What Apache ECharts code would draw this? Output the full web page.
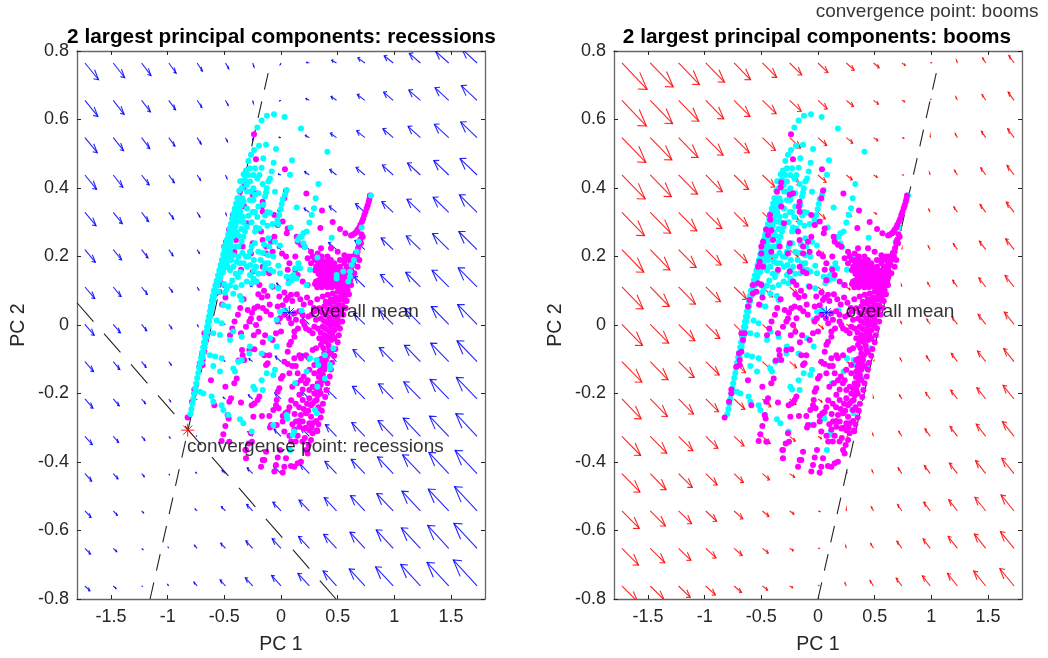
<!DOCTYPE html>
<html>
<head>
<meta charset="utf-8">
<style>
  html, body { margin: 0; padding: 0; background: #fff; }
  #main { width: 1048px; height: 658px; }
</style>
<script src="https://cdn.jsdelivr.net/npm/echarts@6/dist/echarts.min.js"></script>
</head>
<body>
<div id="main"></div>
<script>
var xTicks = [-1.5, -1, -0.5, 0, 0.5, 1, 1.5];
var yTicks = [-0.8, -0.6, -0.4, -0.2, 0, 0.2, 0.4, 0.6, 0.8];

// grid of the quiver tails
var fieldX = [-1.73, -1.48, -1.23, -0.99, -0.74, -0.49, -0.25, 0, 0.25, 0.49, 0.74, 0.99, 1.23, 1.48, 1.73];
var fieldY = [0.765, 0.656, 0.547, 0.438, 0.329, 0.22, 0.111, 0.002, -0.107, -0.216, -0.325, -0.434, -0.543, -0.652, -0.762];

var recessionU = [
  [.120,.101,.083,.065,.047,.029,.011,-.007,-.025,-.043,-.062,-.080,-.098,-.116,-.134],
  [.114,.096,.078,.060,.042,.024,.006,-.013,-.031,-.049,-.067,-.085,-.103,-.121,-.139],
  [.109,.091,.072,.054,.036,.018,0,-.018,-.036,-.054,-.072,-.091,-.109,-.127,-.145],
  [.103,.085,.067,.049,.031,.013,-.005,-.024,-.042,-.060,-.078,-.096,-.114,-.132,-.150],
  [.098,.080,.062,.043,.025,.007,-.011,-.029,-.047,-.065,-.083,-.101,-.119,-.138,-.156],
  [.092,.074,.056,.038,.020,.002,-.016,-.034,-.052,-.071,-.089,-.107,-.125,-.143,-.161],
  [.087,.069,.051,.033,.015,-.004,-.022,-.040,-.058,-.076,-.094,-.112,-.130,-.148,-.167],
  [.082,.063,.045,.027,.009,-.009,-.027,-.045,-.063,-.081,-.100,-.118,-.136,-.154,-.172],
  [.076,.058,.040,.022,.004,-.014,-.033,-.051,-.069,-.087,-.105,-.123,-.141,-.159,-.177],
  [.071,.053,.034,.016,-.002,-.020,-.038,-.056,-.074,-.092,-.110,-.129,-.147,-.165,-.183],
  [.065,.047,.029,.011,-.007,-.025,-.043,-.062,-.080,-.098,-.116,-.134,-.152,-.170,-.188],
  [.060,.042,.024,.005,-.013,-.031,-.049,-.067,-.085,-.103,-.121,-.139,-.157,-.176,-.194],
  [.054,.036,.018,0,-.018,-.036,-.054,-.072,-.091,-.109,-.127,-.145,-.163,-.181,-.199],
  [.049,.031,.013,-.005,-.024,-.042,-.060,-.078,-.096,-.114,-.132,-.150,-.168,-.186,-.205],
  [.044,.025,.007,-.011,-.029,-.047,-.065,-.083,-.101,-.119,-.138,-.156,-.174,-.192,-.210]
];
var recessionV = [
  [-.049,-.043,-.037,-.030,-.024,-.017,-.011,-.005,.002,.008,.015,.021,.028,.034,.041],
  [-.047,-.041,-.034,-.028,-.021,-.015,-.008,-.002,.005,.011,.017,.024,.030,.037,.043],
  [-.044,-.038,-.032,-.025,-.019,-.012,-.006,.001,.007,.013,.020,.026,.033,.039,.046],
  [-.042,-.036,-.029,-.023,-.016,-.010,-.003,.003,.010,.016,.022,.029,.035,.042,.048],
  [-.039,-.033,-.027,-.020,-.014,-.007,-.001,.006,.012,.018,.025,.031,.038,.044,.051],
  [-.037,-.030,-.024,-.018,-.011,-.005,.002,.008,.015,.021,.027,.034,.040,.047,.053],
  [-.034,-.028,-.022,-.015,-.009,-.002,.004,.011,.017,.023,.030,.036,.043,.049,.056],
  [-.032,-.025,-.019,-.013,-.006,0,.007,.013,.020,.026,.032,.039,.045,.052,.058],
  [-.029,-.023,-.017,-.010,-.004,.003,.009,.016,.022,.028,.035,.041,.048,.054,.061],
  [-.027,-.020,-.014,-.008,-.001,.005,.012,.018,.025,.031,.037,.044,.050,.057,.063],
  [-.024,-.018,-.012,-.005,.001,.008,.014,.021,.027,.034,.040,.046,.053,.059,.066],
  [-.022,-.015,-.009,-.003,.004,.010,.017,.023,.030,.036,.042,.049,.055,.062,.068],
  [-.019,-.013,-.006,0,.006,.013,.019,.026,.032,.039,.045,.051,.058,.064,.071],
  [-.017,-.010,-.004,.003,.009,.015,.022,.028,.035,.041,.047,.054,.060,.067,.073],
  [-.014,-.008,-.001,.005,.011,.018,.024,.031,.037,.044,.050,.056,.063,.069,.076]
];
var boomU = [
  [.222,.203,.184,.165,.145,.126,.107,.088,.069,.050,.031,.012,-.008,-.027,-.046],
  [.216,.197,.178,.159,.140,.121,.102,.082,.063,.044,.025,.006,-.013,-.033,-.052],
  [.211,.191,.172,.153,.134,.115,.096,.077,.057,.038,.019,0,-.019,-.038,-.057],
  [.205,.186,.167,.147,.128,.109,.090,.071,.052,.033,.013,-.006,-.025,-.044,-.063],
  [.199,.180,.161,.142,.122,.103,.084,.065,.046,.027,.008,-.012,-.031,-.050,-.069],
  [.193,.174,.155,.136,.117,.098,.079,.059,.040,.021,.002,-.017,-.036,-.056,-.075],
  [.188,.168,.149,.130,.111,.092,.073,.054,.034,.015,-.004,-.023,-.042,-.061,-.080],
  [.182,.163,.144,.124,.105,.086,.067,.048,.029,.010,-.010,-.029,-.048,-.067,-.086],
  [.176,.157,.138,.119,.100,.080,.061,.042,.023,.004,-.015,-.034,-.054,-.073,-.092],
  [.170,.151,.132,.113,.094,.075,.056,.036,.017,-.002,-.021,-.040,-.059,-.079,-.098],
  [.165,.146,.126,.107,.088,.069,.050,.031,.012,-.008,-.027,-.046,-.065,-.084,-.103],
  [.159,.140,.121,.101,.082,.063,.044,.025,.006,-.013,-.033,-.052,-.071,-.090,-.109],
  [.153,.134,.115,.096,.077,.057,.038,.019,0,-.019,-.038,-.057,-.077,-.096,-.115],
  [.147,.128,.109,.090,.071,.052,.033,.013,-.006,-.025,-.044,-.063,-.082,-.101,-.121],
  [.142,.122,.103,.084,.065,.046,.027,.008,-.012,-.031,-.050,-.069,-.088,-.107,-.126]
];
var boomV = [
  [-.077,-.070,-.063,-.056,-.049,-.042,-.035,-.028,-.021,-.014,-.007,.001,.008,.015,.022],
  [-.075,-.068,-.061,-.054,-.047,-.039,-.032,-.025,-.018,-.011,-.004,.003,.010,.017,.024],
  [-.072,-.065,-.058,-.051,-.044,-.037,-.030,-.023,-.016,-.009,-.002,.005,.012,.019,.026],
  [-.070,-.063,-.056,-.049,-.042,-.035,-.028,-.021,-.014,-.007,0,.007,.014,.021,.028],
  [-.068,-.061,-.054,-.047,-.040,-.033,-.026,-.019,-.012,-.005,.002,.009,.016,.023,.030],
  [-.066,-.059,-.052,-.045,-.038,-.031,-.024,-.017,-.010,-.003,.004,.011,.018,.025,.032],
  [-.064,-.057,-.050,-.043,-.036,-.029,-.022,-.015,-.008,-.001,.006,.013,.020,.027,.034],
  [-.062,-.055,-.048,-.041,-.034,-.027,-.020,-.013,-.006,.001,.008,.015,.022,.029,.036],
  [-.060,-.053,-.046,-.039,-.032,-.025,-.018,-.011,-.004,.003,.010,.017,.024,.031,.038],
  [-.058,-.051,-.044,-.037,-.030,-.023,-.016,-.009,-.002,.005,.012,.019,.026,.033,.040],
  [-.056,-.049,-.042,-.035,-.028,-.021,-.014,-.007,.001,.008,.015,.022,.029,.036,.043],
  [-.054,-.047,-.040,-.033,-.026,-.018,-.011,-.004,.003,.010,.017,.024,.031,.038,.045],
  [-.051,-.044,-.037,-.030,-.023,-.016,-.009,-.002,.005,.012,.019,.026,.033,.040,.047],
  [-.049,-.042,-.035,-.028,-.021,-.014,-.007,0,.007,.014,.021,.028,.035,.042,.049],
  [-.047,-.040,-.033,-.026,-.019,-.012,-.005,.002,.009,.016,.023,.030,.037,.044,.051]
];

// state points
var cyanPts = [
  [-.209,.577],[-.171,.597],[-.124,.611],[-.062,.615],[.032,.607],[.176,.574],[.409,.506],
  [-.288,.479],[-.265,.497],[-.238,.511],[-.194,.523],[-.132,.526],[-.044,.514],[.097,.481],[.329,.412],
  [-.156,.487],[-.065,.474],[.079,.439],[.306,.370],
  [-.309,.451],[-.274,.458],[-.229,.458],[-.171,.459],[-.082,.448],[-.097,.428],[-.112,.419],[-.162,.412],
  [-.209,.428],[-.191,.438],[-.244,.438],[-.288,.438],[-.318,.424],[-.347,.419],[-.274,.419],[-.303,.409],
  [-.347,.399],[-.368,.392],[-.244,.399],[-.2,.385],[-.229,.38],[-.126,.399],[-.132,.387],[-.141,.375],
  [-.274,.365],[-.244,.365],[-.053,.389],[.05,.394],[.035,.38],[.015,.367],[.006,.353],[-.003,.338],
  [-.015,.321],[-.032,.307],[-.074,.295],[-.024,.295],[.138,.343],[.291,.341],[.271,.321],[.25,.299],
  [.226,.273],[.197,.268],[.182,.258],[.162,.256],[.147,.248],[.197,.239],[.212,.227],[.085,.285],
  [-.097,.328],[-.156,.351],[-.2,.346],[-.209,.315],[-.288,.319],[-.338,.316],[-.406,.331],[-.421,.316],
  [-.362,.302],[-.421,.297],[-.45,.282],[-.221,.285],[-.191,.282],[-.229,.273],[-.303,.287],[-.318,.273],
  [-.435,.268],[-.465,.258],[-.332,.258],[-.347,.243],[-.376,.229],[-.4,.229],[-.479,.243],[-.494,.229],
  [-.45,.219],[-.421,.204],[-.376,.2],[-.391,.185],[-.362,.18],[-.2,.214],[-.229,.239],[-.259,.229],
  [-.274,.214],[-.288,.2],[-.112,.253],[-.103,.229],[-.009,.232],[-.053,.243],[-.112,.204],[-.068,.2],
  [-.141,.18],[-.112,.18],[-.141,.166],[-.097,.161],[-.024,.173],[-.068,.156],[-.009,.151],[-.156,.151],
  [-.244,.136],[-.274,.146],[-.347,.117],[-.303,.127],[-.259,.122],[-.215,.127],[.05,.141],[.094,.141],
  [.153,.18],[.168,.166],[.124,.166],[.109,.146],[.094,.131],[.256,.161],[.447,.255],[.321,.197],
  [.712,.285],[.685,.243],[.668,.214],[.644,.19],[.624,.175],[.609,.156],[.55,.156],[.491,.146],
  [.609,.141],[.594,.127],[.491,.136],[-.082,.114],[-.024,.107],[.065,.122],[.138,.136],[.226,.117],[.794,.378],
  [-.553,.097],[-.494,.094],[-.421,.091],[-.362,.085],[-.347,.073],[-.509,.058],[-.465,.054],[-.568,.013],
  [-.524,.005],[-.421,-.019],[-.347,-.034],[-.597,-.024],[-.538,-.029],[-.45,-.044],[-.274,-.063],[-.279,-.083],
  [-.171,-.083],[-.347,-.102],[-.376,-.107],[-.626,-.088],[-.582,-.092],[-.524,-.097],[-.421,-.127],[-.406,-.136],
  [-.538,-.136],[-.597,-.12],[-.715,-.195],[-.685,-.2],[-.612,-.209],[-.597,-.224],[-.524,-.234],[-.509,-.248],
  [-.465,-.263],[-.362,-.275],[-.332,-.287],[-.259,-.311],[-.244,-.18],[-.229,-.188],[-.162,-.19],[-.171,-.161],
  [-.126,-.141],[-.053,-.131],[-.068,-.146],[.035,.044],[-.009,.039],[-.038,.015],[-.097,-.039],[-.038,-.063],
  [.182,.042],[.124,-.17],[.226,-.136],[.256,-.097],[.315,-.102],[.329,-.117],[.388,-.088],[.432,-.117],
  [.432,-.127],[.388,-.156],[.321,-.18],[.3,-.248],[.315,-.258],[.05,-.263],[.056,-.273],[-.068,-.292],
  [.115,-.311],[.103,-.321],[.079,-.365],[.462,-.068],
  [-.5,.21],[-.47,.205],[-.44,.19],[-.47,.17],[-.45,.16],[-.42,.17],[-.4,.15],[-.43,.13],[-.38,.14],[-.5,.12],
  [-.48,.105],[-.45,.115],[-.4,.11],[-.36,.155],[-.33,.18],[-.31,.2],[-.34,.21],[-.3,.17],[-.27,.175],[-.24,.19],
  [-.22,.17],[-.24,.16],[-.2,.15],[-.18,.19],[-.16,.21],[-.15,.235],[-.43,.31],[-.39,.27],[-.37,.26],[-.35,.28],
  [-.33,.3],[-.3,.34],[-.33,.36],[-.36,.33],[-.36,.42],[-.33,.44],[-.3,.39],[-.27,.39],[-.25,.33],[-.26,.3],
  [-.23,.33],[-.16,.3],[-.14,.32],[-.12,.29],[-.12,.33],
  // dense left edge
  [-.80,-.26],[-.79,-.245],[-.782,-.23],[-.773,-.215],[-.765,-.2],[-.756,-.185],[-.748,-.17],[-.739,-.155],
  [-.73,-.14],[-.722,-.125],[-.713,-.11],[-.705,-.095],[-.696,-.08],[-.687,-.065],[-.679,-.05],[-.67,-.035],
  [-.662,-.02],[-.653,-.005],[-.645,.01],[-.636,.025],[-.627,.04],[-.619,.055],[-.61,.07],[-.602,.085],[-.593,.1],
  [-.579,.115],[-.567,.13],[-.556,.145],[-.544,.16],[-.533,.175],[-.522,.19],[-.51,.205],[-.499,.22],[-.487,.235],
  [-.476,.25],[-.465,.265],[-.453,.28],[-.442,.295],[-.43,.31],[-.419,.325],[-.408,.34],[-.396,.355],[-.385,.37],
  [-.70,-.11],[-.692,-.095],[-.684,-.08],[-.675,-.065],[-.667,-.05],[-.658,-.035],[-.65,-.02],[-.641,-.005],
  [-.633,.01],[-.624,.025],[-.615,.04],[-.607,.055],[-.598,.07],[-.59,.085],[-.578,.1],
  [-.559,.115],[-.547,.13],[-.536,.145],[-.524,.16],[-.513,.175],[-.502,.19],[-.49,.205],[-.479,.22],[-.467,.235],
  [-.456,.25],[-.445,.265],[-.433,.28],[-.422,.295],[-.41,.31],[-.399,.325],[-.388,.34],[-.376,.355],[-.365,.37],
  [-.535,.14],[-.51,.155],[-.5,.17],[-.478,.185],[-.468,.2],[-.455,.215],[-.445,.23],[-.44,.245],[-.42,.26],[-.41,.275],
  [-.4,.29],[-.39,.305],[-.375,.32],[-.365,.335],[-.35,.35],[-.34,.37]
];
var magentaPts = [
  [-.824,-.27],[-.785,-.224],[-.765,-.2],[-.765,-.188],[-.691,-.117],[-.721,-.122],[-.691,-.102],[-.697,-.083],
  [-.676,-.078],[-.662,-.044],[-.676,-.024],[-.647,-.024],[-.618,.054],[-.603,.073],[-.574,.092],[-.544,.097],
  [-.618,-.161],[-.491,-.18],[-.441,-.214],[-.456,-.224],[-.588,-.234],[-.471,-.263],[-.462,-.273],[-.491,-.295],
  [-.509,-.319],[-.524,-.339],[-.456,-.341],[-.309,-.365],[-.285,-.346],[-.309,-.389],[-.147,-.394],[-.176,-.414],
  [-.256,-.341],[-.265,-.316],[-.244,-.268],[-.168,-.266],[-.103,-.266],[-.235,-.229],[-.206,-.219],[-.191,-.209],
  [-.259,-.234],[-.353,-.226],[-.412,-.17],[-.391,-.156],[-.374,-.104],[-.324,-.102],[-.338,-.088],[-.344,-.073],
  [-.279,-.073],[-.235,-.071],[-.147,-.088],[-.103,-.088],[-.118,-.112],[-.132,-.117],[.015,-.149],[0,-.156],
  [-.015,-.185],[-.029,-.195],[-.038,-.219],[-.044,-.234],[-.068,-.248],[-.088,-.292],[-.097,-.299],[-.038,-.292],
  [.015,-.282],[.074,-.24],[.059,-.253],[.038,-.258],[.015,-.266],[-.021,-.243],[.029,-.311],[.074,-.323],
  [.147,-.323],[.118,-.305],[.132,-.282],[.191,-.282],[.25,-.287],[.279,-.287],[.176,-.263],[.221,-.258],
  [.265,-.268],[.309,-.248],[.265,-.234],[.191,-.219],[.162,-.204],[.191,-.188],[.25,-.19],[.235,-.161],
  [.176,-.161],[.147,-.141],[.074,-.141],[.059,-.114],[.029,-.107],[.074,-.058],[.059,-.078],[.088,-.049],
  [.118,-.097],[.162,-.088],[.176,-.097],[.221,-.088],[.25,-.131],[.294,-.117],[.338,-.102],[.279,-.073],
  [.235,-.375],[.221,-.365],[.176,-.399],[.147,-.404],[.118,-.414],[.088,-.412],[.044,-.389],[.029,-.414],
  [.015,-.431],[-.044,-.409],[-.059,-.428],[-.029,-.387],[-.009,-.365],[-.132,-.37],[-.162,-.394],[-.315,-.365],
  [.244,-.35],[.265,-.336],[.279,-.316],[.318,-.307],[.25,-.307],[.206,-.302],[.162,-.297],
  [-.294,.044],[-.256,.036],[-.235,.049],[-.206,.054],[-.265,.019],[-.029,.054],[.015,.058],[.044,.073],
  [-.015,.083],[.088,.088],[.132,.015],[.118,.034],[.221,-.01],[.25,-.015],[.206,0],[.118,-.034],[.118,-.019],
  [.279,-.024],[.294,-.005],[.309,.015],[-.353,-.024],[-.309,-.005],[-.279,.01],[-.074,-.044],[-.044,-.024],[0,-.019],
  [-.238,.557],[-.221,.484],[.035,.455],[-.324,.416],[-.362,.389],[-.329,.402],[-.25,.38],[-.221,.385],[-.162,.36],
  [-.168,.346],[-.162,.331],[-.324,.346],[.044,.392],[.029,.37],[.224,.384],[.362,.334],[.456,.301],[.347,.283],
  [.521,.28],[.568,.268],[.618,.261],[.662,.271],[.691,.285],[.715,.302],[.735,.321],[.756,.341],[.774,.36],[.785,.378],
  [.63,.263],[.65,.267],[.675,.278],[.70,.293],[.725,.31],[.745,.33],[.765,.35],[.78,.368],
  [.69,.24],[.7,.25],[.71,.265],[.68,.225],[.66,.2],[.64,.175],[.62,.16],
  [-.424,.321],[-.421,.307],[-.459,.279],[-.441,.263],[-.412,.277],[-.397,.248],[-.485,.243],[-.5,.229],[-.338,.229],
  [-.412,.214],[-.5,.209],[-.515,.185],[-.529,.17],[-.485,.17],[-.574,.117],[-.529,.122],[-.5,.117],[-.3,.297],
  [-.176,.273],[-.059,.321],[-.029,.292],[.015,.302],[.059,.282],[.051,.268],[-.059,.258],[-.088,.243],[-.132,.229],
  [-.162,.248],[-.25,.239],[-.265,.209],[-.132,.209],[-.074,.214],[.009,.209],[.044,.2],[.126,.2],[.074,.18],[.059,.161],
  [.126,.161],[.147,.146],[-.103,.151],[-.162,.17],[-.132,.156],[-.221,.127],[-.191,.117],[-.353,.161],[-.25,.156],
  [-.074,.112],[.074,.131],[.191,.127],[.235,.117],[.309,.127],[.368,.114],[.138,.258],[.147,.243],[.176,.234],
  [.206,.229],[.265,.214],[.279,.2],[.324,.209],[.235,.195],[.265,.18],[.338,.19],[.397,.185],[.426,.175],[.456,.166],
  [.5,.166],[.485,.151],[.544,.151],[.588,.156],[.618,.17],[.647,.19],[.676,.214],[.559,.204],[.5,.214],[.441,.224],
  [.353,.224],[.706,.239],[.721,.258],[.544,.131],[.603,.136],[.647,.151],[.676,.17],[.691,.19],[.338,.161],[.397,.17],
  [.426,.156],[.456,.141],[.515,.136],[.574,.127],[.618,.117],[.559,.114],
  // fan between y 0.11 and 0.22, right of the mean
  [.66,.21],[.36,.2],[.41,.2],[.6,.2],[.63,.2],[.67,.2],
  [.3,.19],[.36,.19],[.44,.19],[.52,.19],[.56,.19],[.6,.19],[.33,.18],[.38,.18],[.43,.18],[.47,.18],[.56,.18],[.62,.18],
  [.31,.17],[.36,.17],[.42,.17],[.48,.17],[.52,.17],[.58,.17],[.3,.16],[.35,.16],[.4,.16],[.44,.16],[.47,.16],[.53,.16],
  [.57,.16],[.33,.15],[.37,.15],[.42,.15],[.46,.15],[.52,.15],[.56,.15],[.6,.15],[.63,.15],[.35,.14],[.4,.14],[.44,.14],
  [.48,.14],[.53,.14],[.58,.14],[.62,.14],[.33,.13],[.37,.13],[.42,.13],[.46,.13],[.5,.13],[.55,.13],[.59,.13],[.61,.13],
  [.3,.12],[.34,.12],[.39,.12],[.43,.12],[.47,.12],[.52,.12],[.56,.12],[.6,.12],[.32,.11],[.36,.11],[.41,.11],[.45,.11],
  [.5,.11],[.54,.11],[.58,.11],
  // middle fans
  [.03,.095],[.06,.08],[.1,.07],[.14,.09],[.17,.075],[.2,.06],[.23,.08],[.26,.065],[.29,.05],[.32,.075],[.16,.04],
  [.19,.03],[.24,.025],[.27,.03],[.3,.04],[.03,.03],[.07,.02],[.09,.005],[.15,-.01],[.19,.01],[-.01,.02],[-.03,.01],
  [-.2,.09],[-.17,.08],[-.15,.1],[-.12,.085],[-.16,.05],[-.13,.04],[-.1,.06],[-.09,.03],[-.19,.02],[-.22,0],[-.2,-.02],
  [-.24,-.03],[-.14,-.03],[-.16,-.05],[-.33,.075],[-.36,.05],[-.38,.03],[-.41,.01],[-.43,-.01],[-.45,-.03],[-.49,.08],[-.52,.06],
  [.1,-.12],[.13,-.12],[.1,-.18],[.14,-.17],[.2,-.15],[.22,-.17],[.09,-.22],[.13,-.23],[.16,-.24],[.23,-.23],[.12,-.26],
  [.2,-.245],[.24,-.25],[.1,-.29],[.16,-.28],[.22,-.3],[.27,-.3],[.09,-.34],[.13,-.34],[.19,-.34],[.21,-.33],
  // dense right edge
  [.588,.102],[.544,.097],[.5,.097],[.456,.092],[.412,.088],[.368,.083],[.559,.073],[.515,.073],[.471,.068],[.426,.063],
  [.382,.054],[.338,.049],[.529,.044],[.485,.044],[.441,.039],[.397,.029],[.353,.019],[.5,.015],[.456,.01],[.412,.005],
  [.368,-.005],[.324,-.01],[.471,-.015],[.426,-.019],[.382,-.029],[.338,-.039],[.441,-.044],[.397,-.049],[.353,-.058],
  [.309,-.068],[.426,-.073],[.382,-.083],[.397,-.102],[.362,-.112],[.382,-.131],[.338,-.136],[.294,-.141],[.362,-.161],
  [.324,-.17],[.279,-.18],[.338,-.19],[.294,-.2],[.25,-.214],[.315,-.219],[.279,-.229],
  [.57,.088],[.53,.085],[.485,.08],[.44,.075],[.395,.068],[.54,.058],[.5,.058],[.455,.052],[.41,.046],[.365,.036],
  [.515,.03],[.47,.026],[.425,.02],[.38,.012],[.485,0],[.44,-.004],[.395,-.012],[.35,-.022],[.455,-.03],[.41,-.034],
  [.365,-.044],[.42,-.06],[.375,-.068],[.405,-.088],[.36,-.098],[.39,-.118],[.35,-.122],[.37,-.146],[.335,-.152],
  [.35,-.175],[.31,-.185],[.325,-.205],[.3,-.222],
  [.60,.09],[.58,.07],[.57,.05],[.55,.03],[.54,.01],[.52,-.01],[.51,-.03],[.50,-.05],[.48,-.07],[.47,-.09],[.45,-.11],
  [.44,-.13],[.43,-.15],[.41,-.17],[.40,-.19],[.39,-.21],[.37,-.23],[.36,-.25],[.35,-.27],[.33,-.29],[.32,-.31],
  [.56,.08],[.53,.04],[.5,0],[.47,-.04],[.44,-.08],[.41,-.12],[.38,-.16],[.35,-.2],[.33,-.24],[.31,-.28]
];
var meanPoint = [0.073, 0.036];
var convergenceRecessions = [-0.823, -0.307];
var steepLineRecessions = [[-1.155, -0.8], [-0.09, 0.77]];
var slantLineRecessions = [[-1.8, 0.065], [0.485, -0.8]];
var steepLineBooms = [[0, -0.8], [1.067, 0.77]];

var axisColor = '#262626';
var fontName = 'Liberation Sans';

function quiverData(u, v) {
  var out = [];
  for (var r = 0; r < fieldY.length; r++) {
    for (var c = 0; c < fieldX.length; c++) {
      out.push([fieldX[c], fieldY[r], u[r][c], v[r][c]]);
    }
  }
  return out;
}

// same head construction as MATLAB quiver: worked out in data units
function renderArrow(color) {
  return function (params, api) {
    var x = api.value(0), y = api.value(1), u = api.value(2), v = api.value(3);
    var a = 0.33, b = 0.33;
    var tx = x + u, ty = y + v;
    var p0 = api.coord([x, y]);
    var p1 = api.coord([tx, ty]);
    var h1 = api.coord([tx - a * (u + b * v), ty - a * (v - b * u)]);
    var h2 = api.coord([tx - a * (u - b * v), ty - a * (v + b * u)]);
    var rect = params.coordSys;
    return {
      type: 'group',
      clipPath: { type: 'rect', shape: { x: rect.x, y: rect.y, width: rect.width, height: rect.height } },
      children: [{
        type: 'polyline',
        shape: { points: [p0, p1] },
        style: { stroke: color, lineWidth: 1.1, opacity: 0.85, fill: null }
      }, {
        type: 'polyline',
        shape: { points: [h1, p1, h2] },
        style: { stroke: color, lineWidth: 1.1, opacity: 0.85, fill: null }
      }]
    };
  };
}

function renderStar(color) {
  return function (params, api) {
    var p = api.coord([api.value(0), api.value(1)]);
    var r = 6.5, d = 4.6;
    var segs = [[-r, 0, r, 0], [0, -r, 0, r], [-d, -d, d, d], [-d, d, d, -d]];
    return {
      type: 'group',
      children: segs.map(function (s) {
        return {
          type: 'line',
          shape: { x1: p[0] + s[0], y1: p[1] + s[1], x2: p[0] + s[2], y2: p[1] + s[3] },
          style: { stroke: color, lineWidth: 0.9 }
        };
      })
    };
  };
}

function textSeries(axisIndex, pos, text) {
  return {
    type: 'scatter', xAxisIndex: axisIndex, yAxisIndex: axisIndex, clip: false, silent: true, z: 9,
    symbolSize: 0, data: [pos],
    label: {
      show: true, position: 'right', distance: 0, formatter: text,
      color: '#000', fontFamily: fontName, fontSize: 19
    }
  };
}

function dashedLine(axisIndex, pts, dash) {
  return {
    type: 'line', xAxisIndex: axisIndex, yAxisIndex: axisIndex, data: pts, showSymbol: false, silent: true, z: 2,
    lineStyle: { color: '#222', width: 1.1, type: dash }
  };
}

function dots(axisIndex, pts, color, z) {
  return {
    type: 'scatter', xAxisIndex: axisIndex, yAxisIndex: axisIndex, data: pts, silent: true, z: z,
    symbol: 'circle', symbolSize: 6, itemStyle: { color: color, opacity: 1 }
  };
}

function makeAxes(gridIndex) {
  var tickStyle = { show: true, inside: true, length: 4, lineStyle: { color: axisColor, width: 1 } };
  var lineStyle = { show: true, onZero: false, lineStyle: { color: '#666', width: 1.3 } };
  function xA(position, labels) {
    return {
      type: 'value', gridIndex: gridIndex, position: position, min: -1.8, max: 1.8, splitLine: { show: false },
      axisLine: lineStyle,
      axisTick: Object.assign({ customValues: xTicks }, tickStyle),
      axisLabel: { show: labels, customValues: xTicks, margin: 9, color: axisColor, fontFamily: fontName, fontSize: 18 },
      name: labels ? 'PC 1' : '', nameLocation: 'middle', nameGap: 36,
      nameTextStyle: { color: axisColor, fontFamily: fontName, fontSize: 19.5 }
    };
  }
  function yA(position, labels) {
    return {
      type: 'value', gridIndex: gridIndex, position: position, min: -0.8, max: 0.8, splitLine: { show: false },
      axisLine: lineStyle,
      axisTick: Object.assign({ customValues: yTicks }, tickStyle),
      axisLabel: { show: labels, customValues: yTicks, margin: 8, color: axisColor, fontFamily: fontName, fontSize: 18 },
      name: labels ? 'PC 2' : '', nameLocation: 'middle', nameGap: 48,
      nameTextStyle: { color: axisColor, fontFamily: fontName, fontSize: 19.5 }
    };
  }
  return { x: [xA('bottom', true), xA('top', false)], y: [yA('left', true), yA('right', false)] };
}

var leftAxes = makeAxes(0), rightAxes = makeAxes(1);
var titleStyle = { color: '#000', fontFamily: fontName, fontSize: 20.8, fontWeight: 'bold' };

var option = {
  animation: false,
  backgroundColor: '#fff',
  title: [
    { text: '2 largest principal components: recessions', left: 276.5, top: 22, textAlign: 'center', textStyle: titleStyle },
    { text: '2 largest principal components: booms', left: 812, top: 22, textAlign: 'center', textStyle: titleStyle }
  ],
  grid: [
    { left: 77, top: 51, width: 408, height: 548, outerBoundsMode: 'none' },
    { left: 614, top: 51, width: 408, height: 548, outerBoundsMode: 'none' }
  ],
  // axis 0/1 are bottom+left of each panel, 2/3 only mirror the ticks
  xAxis: [leftAxes.x[0], rightAxes.x[0], leftAxes.x[1], rightAxes.x[1]],
  yAxis: [leftAxes.y[0], rightAxes.y[0], leftAxes.y[1], rightAxes.y[1]],
  series: [
    {
      type: 'custom', xAxisIndex: 0, yAxisIndex: 0, silent: true, z: 1,
      renderItem: renderArrow('#0000ff'), data: quiverData(recessionU, recessionV)
    },
    dashedLine(0, steepLineRecessions, [17, 12]),
    dashedLine(0, slantLineRecessions, [25, 16]),
    dots(0, magentaPts, '#ff00ff', 3),
    dots(0, cyanPts, '#00ffff', 4),
    {
      type: 'custom', xAxisIndex: 0, yAxisIndex: 0, silent: true, z: 5,
      renderItem: renderStar('#0000ff'), data: [meanPoint]
    },
    {
      type: 'custom', xAxisIndex: 0, yAxisIndex: 0, silent: true, z: 5,
      renderItem: renderStar('#ff0000'), data: [convergenceRecessions]
    },
    textSeries(0, [0.256, 0.038], 'overall mean'),
    textSeries(0, [-0.829, -0.356], 'convergence point: recessions'),

    {
      type: 'custom', xAxisIndex: 1, yAxisIndex: 1, silent: true, z: 1,
      renderItem: renderArrow('#ff0000'), data: quiverData(boomU, boomV)
    },
    dashedLine(1, steepLineBooms, [17, 12]),
    dots(1, cyanPts, '#00ffff', 3),
    dots(1, magentaPts, '#ff00ff', 4),
    {
      type: 'custom', xAxisIndex: 1, yAxisIndex: 1, silent: true, z: 5,
      renderItem: renderStar('#0000ff'), data: [meanPoint]
    },
    textSeries(1, [0.244, 0.038], 'overall mean'),
    textSeries(1, [-0.02, 0.914], 'convergence point: booms')
  ]
};

var chart = echarts.init(document.getElementById('main'));
chart.setOption(option);
</script>
</body>
</html>
